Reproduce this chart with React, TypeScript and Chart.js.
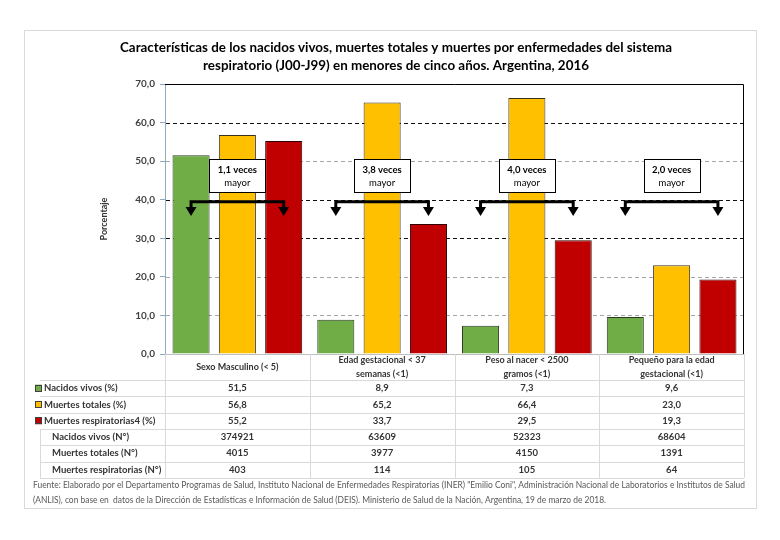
import React, { useEffect, useRef } from 'react';
import { Chart, registerables } from 'chart.js';

Chart.register(...registerables);

// ---------- data ----------
const categories: string[][] = [
  ['Sexo Masculino (< 5)'],
  ['Edad gestacional < 37', 'semanas (<1)'],
  ['Peso al nacer < 2500', 'gramos (<1)'],
  ['Pequeño para la edad', 'gestacional (<1)'],
];
const nacidosVivosPct = [51.5, 8.9, 7.3, 9.6];
const muertesTotalesPct = [56.8, 65.2, 66.4, 23.0];
const muertesRespPct = [55.2, 33.7, 29.5, 19.3];
const nacidosVivosN = [374921, 63609, 52323, 68604];
const muertesTotalesN = [4015, 3977, 4150, 1391];
const muertesRespN = [403, 114, 105, 64];
const ratioLabels = ['1,1 veces', '3,8 veces', '4,0 veces', '2,0 veces'];
const ratioSuffix = 'mayor';
const seriesNames = ['Nacidos vivos (%)', 'Muertes totales (%)', 'Muertes respiratorias4 (%)'];
const countNames = ['Nacidos vivos (N°)', 'Muertes totales (N°)', 'Muertes respiratorias (N°)'];
const seriesColors = ['#70AD47', '#FFC000', '#C00000'];
const yAxisTitle = 'Porcentaje';
const titleLines = [
  'Características de los nacidos vivos, muertes totales y muertes por enfermedades del sistema',
  'respiratorio (J00-J99) en menores de cinco años. Argentina, 2016',
];
const sourceLines = [
  'Fuente: Elaborado por el Departamento Programas de Salud, Instituto Nacional de Enfermedades Respiratorias (INER) "Emilio Coni", Administración Nacional de Laboratorios e Institutos de Salud',
  '(ANLIS), con base en  datos de la Dirección de Estadísticas e Información de Salud (DEIS). Ministerio de Salud de la Nación, Argentina, 19 de marzo de 2018.',
];
const yMin = 0;
const yMax = 70;
const yStep = 10;
const darkGridValues = [30, 40, 60];
const arrowLevel = 39.5;
const arrowTip = 35.8;
const boxTop = 50.6;
const boxBottom = 42.0;

const fmt = (v: number) => v.toFixed(1).replace('.', ',');

const FONT = 'Lato, "Open Sans", sans-serif';

const customPlugin = {
  id: 'customDraw',
  beforeDatasetsDraw(chart: any) {
    const { ctx, chartArea: ca, scales } = chart;
    const y = scales.y;
    ctx.save();
    ctx.lineWidth = 1;
    ctx.setLineDash([4, 3]);
    y.ticks.forEach((t: any) => {
      if (t.value <= y.min || t.value >= y.max) return;
      const py = Math.round(y.getPixelForValue(t.value)) + 0.5;
      ctx.strokeStyle = darkGridValues.includes(t.value) ? '#111' : '#a6a6a6';
      ctx.beginPath();
      ctx.moveTo(ca.left + 1, py);
      ctx.lineTo(ca.right, py);
      ctx.stroke();
    });
    ctx.restore();
  },
  afterDraw(chart: any) {
    const { ctx, chartArea: ca, scales } = chart;
    const y = scales.y;
    const x = scales.x;
    ctx.save();

    // outer frame
    ctx.strokeStyle = '#d9d9d9';
    ctx.lineWidth = 1;
    ctx.strokeRect(24.5, 30.5, 732, 478);

    // plot top / right border
    ctx.strokeStyle = '#000';
    ctx.beginPath();
    const topY = Math.round(y.getPixelForValue(yMax)) + 0.5;
    ctx.moveTo(ca.left, topY);
    ctx.lineTo(Math.round(ca.right) - 0.5, topY);
    ctx.lineTo(Math.round(ca.right) - 0.5, ca.bottom);
    ctx.stroke();

    // title
    ctx.fillStyle = '#000';
    ctx.font = `bold 14px ${FONT}`;
    ctx.textAlign = 'center';
    ctx.textBaseline = 'middle';
    const tw = ctx.measureText(titleLines[0]).width;
    const tf = Math.min(1.2, 552 / tw);
    titleLines.forEach((l, i) => {
      ctx.save();
      ctx.translate(396, 47 + i * 18);
      ctx.scale(tf, 1);
      ctx.fillText(l, 0, 0);
      ctx.restore();
    });

    // y axis title
    ctx.save();
    ctx.translate(104, (ca.top + ca.bottom) / 2);
    ctx.rotate(-Math.PI / 2);
    ctx.font = `bold 9px ${FONT}`;
    ctx.fillStyle = '#333';
    ctx.fillText(yAxisTitle, 0, 0);
    ctx.restore();

    // arrows and ratio boxes
    const m0 = chart.getDatasetMeta(0);
    const m2 = chart.getDatasetMeta(2);
    const ya = y.getPixelForValue(arrowLevel);
    const yt = y.getPixelForValue(arrowTip);
    ratioLabels.forEach((lab, i) => {
      const xl = m0.data[i].x;
      const xr = m2.data[i].x;
      ctx.strokeStyle = '#000';
      ctx.fillStyle = '#000';
      ctx.lineWidth = 3;
      ctx.setLineDash([]);
      ctx.beginPath();
      ctx.moveTo(xl, yt - 8);
      ctx.lineTo(xl, ya);
      ctx.lineTo(xr, ya);
      ctx.lineTo(xr, yt - 8);
      ctx.stroke();
      [xl, xr].forEach((ax) => {
        ctx.beginPath();
        ctx.moveTo(ax - 5.5, yt - 9);
        ctx.lineTo(ax + 5.5, yt - 9);
        ctx.lineTo(ax, yt);
        ctx.closePath();
        ctx.fill();
      });
      const cx = (xl + xr) / 2;
      const bt = y.getPixelForValue(boxTop);
      const bb = y.getPixelForValue(boxBottom);
      ctx.lineWidth = 1;
      ctx.fillStyle = '#fff';
      ctx.fillRect(Math.round(cx - 28) + 0.5, Math.round(bt) + 0.5, 56, Math.round(bb - bt));
      ctx.strokeStyle = '#000';
      ctx.strokeRect(Math.round(cx - 28) + 0.5, Math.round(bt) + 0.5, 56, Math.round(bb - bt));
      ctx.fillStyle = '#000';
      ctx.font = `bold 9.5px ${FONT}`;
      ctx.textAlign = 'center';
      ctx.fillText(lab, cx, bt + (bb - bt) * 0.32);
      ctx.font = `9.5px ${FONT}`;
      ctx.fillText(ratioSuffix, cx, bt + (bb - bt) * 0.74);
    });

    // data table
    const colW = (ca.right - ca.left) / categories.length;
    const headTop = ca.bottom;
    const headBot = ca.bottom + 26;
    const rowH = 16.3;
    const nRows = 6;
    const tableBot = headBot + rowH * nRows;
    ctx.strokeStyle = '#d9d9d9';
    ctx.lineWidth = 1;
    ctx.setLineDash([]);
    ctx.beginPath();
    for (let r = 0; r <= nRows; r++) {
      const yy = Math.round(headBot + r * rowH) + 0.5;
      ctx.moveTo(40, yy);
      ctx.lineTo(ca.right, yy);
    }
    for (let c = 0; c <= categories.length; c++) {
      const xx = Math.round(ca.left + c * colW) + 0.5;
      ctx.moveTo(xx, headTop);
      ctx.lineTo(xx, tableBot);
    }
    ctx.moveTo(40.5, Math.round(headBot + 3 * rowH));
    ctx.lineTo(40.5, tableBot);
    ctx.stroke();

    ctx.fillStyle = '#333';
    ctx.textAlign = 'center';
    ctx.textBaseline = 'middle';
    ctx.font = `bold 9px ${FONT}`;
    categories.forEach((lines, i) => {
      const cx = x.getPixelForValue(i);
      const mid = (headTop + headBot) / 2;
      lines.forEach((l, k) => {
        ctx.fillText(l, cx, mid + (k - (lines.length - 1) / 2) * 14);
      });
    });

    const pctRows = [nacidosVivosPct, muertesTotalesPct, muertesRespPct];
    const nRowsData = [nacidosVivosN, muertesTotalesN, muertesRespN];
    const rowCenter = (r: number) => headBot + rowH * (r + 0.5);
    ctx.font = `bold 9.5px ${FONT}`;
    pctRows.forEach((arr, r) => {
      const cy = rowCenter(r);
      ctx.fillStyle = seriesColors[r];
      ctx.fillRect(35, cy - 3.5, 7, 7);
      ctx.strokeStyle = '#404040';
      ctx.strokeRect(35.5, Math.round(cy - 3.5) + 0.5, 6, 6);
      ctx.fillStyle = '#333';
      ctx.textAlign = 'left';
      ctx.fillText(seriesNames[r], 44, cy);
      ctx.textAlign = 'center';
      arr.forEach((v, i) => ctx.fillText(fmt(v), x.getPixelForValue(i), cy));
    });
    nRowsData.forEach((arr, r) => {
      const cy = rowCenter(r + 3);
      ctx.textAlign = 'left';
      ctx.fillText(countNames[r], 52, cy);
      ctx.textAlign = 'center';
      arr.forEach((v, i) => ctx.fillText(String(v), x.getPixelForValue(i), cy));
    });

    // source
    ctx.fillStyle = '#595959';
    ctx.font = `9px ${FONT}`;
    ctx.textAlign = 'left';
    const sw = ctx.measureText(sourceLines[0]).width;
    const sf = Math.min(1, 712 / sw);
    sourceLines.forEach((l, i) => {
      ctx.save();
      ctx.translate(33, 485 + i * 15);
      ctx.scale(sf, 1);
      ctx.fillText(l, 0, 0);
      ctx.restore();
    });

    ctx.restore();
  },
};

export default function App() {
  const ref = useRef<HTMLCanvasElement>(null);
  useEffect(() => {
    if (!ref.current) return;
    const chart = new Chart(ref.current, {
      type: 'bar',
      data: {
        labels: categories.map((c) => c.join(' ')),
        datasets: [
          { label: seriesNames[0], data: nacidosVivosPct, backgroundColor: seriesColors[0], borderColor: '#2a3a20', borderWidth: 1 },
          { label: seriesNames[1], data: muertesTotalesPct, backgroundColor: seriesColors[1], borderColor: '#3a3020', borderWidth: 1 },
          { label: seriesNames[2], data: muertesRespPct, backgroundColor: seriesColors[2], borderColor: '#300000', borderWidth: 1 },
        ],
      },
      options: {
        responsive: false,
        animation: false,
        devicePixelRatio: 1,
        layout: { padding: { left: 90, right: 36, top: 84, bottom: 186 } },
        datasets: { bar: { categoryPercentage: 0.96, barPercentage: 0.8 } },
        plugins: { legend: { display: false }, tooltip: { enabled: false }, title: { display: false } },
        scales: {
          x: {
            grid: { display: false },
            ticks: { display: false },
            border: { display: true, color: '#bfbfbf' },
            afterFit: (s: any) => { s.height = 0; },
          },
          y: {
            min: yMin,
            max: yMax,
            ticks: {
              stepSize: yStep,
              callback: (v: any) => fmt(Number(v)),
              font: { family: FONT, size: 10, weight: 'bold' },
              color: '#404040',
              padding: 5,
            },
            grid: { drawOnChartArea: false, drawTicks: true, tickLength: 5, color: '#8EA9C1' },
            border: { display: true, color: '#8EA9C1' },
            afterFit: (s: any) => { s.width = 75; },
          },
        },
      } as any,
      plugins: [customPlugin],
    });
    return () => chart.destroy();
  }, []);
  return (
    <div style={{ position: 'fixed', left: 0, top: 0, width: 780, height: 540, background: '#fff' }}>
      <canvas ref={ref} width={780} height={540} style={{ display: 'block', width: 780, height: 540 }} />
    </div>
  );
}
